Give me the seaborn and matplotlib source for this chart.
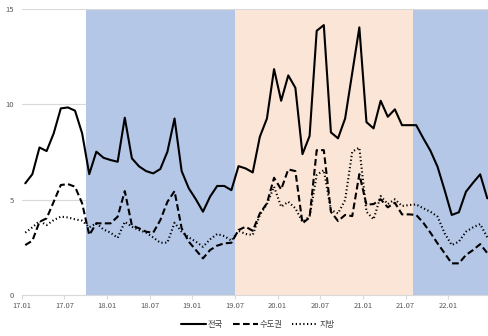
import matplotlib
matplotlib.use("Agg")
import matplotlib.pyplot as plt
import seaborn as sns
import pandas as pd
import numpy as np

# Monthly values, Jan 2017 .. Jun 2022
nationwide = [5.86, 6.34, 7.74, 7.55, 8.48, 9.79, 9.84, 9.67, 8.48, 6.34, 7.52, 7.2,
              7.08, 6.99, 9.3, 7.17, 6.75, 6.5, 6.38, 6.61, 7.52, 9.26, 6.5, 5.6,
              5.02, 4.37, 5.16, 5.72, 5.72, 5.5, 6.76, 6.64, 6.43, 8.3, 9.26, 11.85,
              10.19, 11.52, 10.87, 7.39, 8.34, 13.86, 14.16, 8.53, 8.22, 9.26, 11.65, 14.04,
              9.07, 8.74, 10.19, 9.35, 9.74, 8.91, 8.91, 8.91, 8.22, 7.57, 6.73, 5.5,
              4.2, 4.34, 5.42, 5.89, 6.33, 5.07]
capital = [2.62, 2.85, 3.84, 4.02, 4.89, 5.77, 5.82, 5.68, 4.81, 3.15, 3.76, 3.76,
           3.76, 4.11, 5.45, 3.65, 3.5, 3.32, 3.27, 3.93, 4.89, 5.45, 3.5, 2.8,
           2.36, 1.92, 2.36, 2.59, 2.71, 2.74, 3.41, 3.58, 3.37, 4.28, 4.81, 6.15,
           5.54, 6.59, 6.5, 3.76, 4.07, 7.6, 7.6, 4.37, 3.88, 4.2, 4.14, 6.34,
           4.74, 4.77, 5.02, 4.6, 4.84, 4.23, 4.23, 4.2, 3.79, 3.27, 2.71, 2.19,
           1.66, 1.66, 2.1, 2.36, 2.67, 2.2]
regional = [3.27, 3.55, 3.88, 3.67, 3.93, 4.11, 4.07, 3.97, 3.9, 3.55, 3.76, 3.44,
            3.27, 3.0, 3.84, 3.58, 3.41, 3.27, 3.02, 2.74, 2.75, 3.79, 3.32, 3.02,
            2.8, 2.53, 2.92, 3.2, 3.09, 2.85, 3.37, 3.2, 3.15, 4.2, 4.77, 5.68,
            4.63, 4.89, 4.55, 3.84, 4.11, 6.29, 6.55, 4.46, 4.28, 4.98, 7.52, 7.73,
            4.37, 3.97, 5.19, 4.77, 5.02, 4.67, 4.72, 4.75, 4.55, 4.37, 4.11, 3.24,
            2.62, 2.8, 3.32, 3.55, 3.72, 3.02]
series_names = ["전국", "수도권", "지방"]
tick_labels = ["17.01", "17.07", "18.01", "18.07", "19.01", "19.07",
               "20.01", "20.07", "21.01", "21.07", "22.01"]
# Shaded periods as (start month index, end month index, colour)
periods = [(9, 30, "#B4C7E7"), (30, 55, "#FBE5D6"), (55, 66, "#B4C7E7")]

n = len(nationwide)
month_pos = np.arange(n) + 0.5
df = pd.DataFrame({
    "pos": np.tile(month_pos, 3),
    "value": nationwide + capital + regional,
    "series": np.repeat(series_names, n),
})

sns.set_theme(style="white")
plt.rcParams["font.family"] = ["Noto Sans CJK KR", "DejaVu Sans"]

fig = plt.figure(figsize=(4.88, 3.36), dpi=100)
ax = fig.add_axes([0.0445, 0.122, 0.9555, 0.851])

for y in (5, 10):
    ax.axhline(y, color="#D9D9D9", lw=0.8, zorder=0)
for start, end, color in periods:
    ax.axvspan(start, end, color=color, lw=0, zorder=1)
ax.axhline(15, color="#D9D9D9", lw=0.8, zorder=2)

sns.lineplot(data=df, x="pos", y="value", style="series", style_order=series_names,
             dashes={"전국": "", "수도권": (3.2, 1.6), "지방": (0.6, 1.2)},
             color="black", linewidth=1.5, ax=ax, zorder=3, legend=True)

ax.set_xlim(0, 65.6)
ax.set_ylim(0, 15)
ax.set_xticks(np.arange(0, 61, 6))
ax.set_xticklabels(tick_labels)
ax.set_yticks([0, 5, 10, 15])
ax.set_xlabel("")
ax.set_ylabel("")
for side in ("top", "right", "left"):
    ax.spines[side].set_visible(False)
ax.spines["bottom"].set_color("#D9D9D9")
ax.spines["bottom"].set_linewidth(0.8)
ax.spines["bottom"].set_zorder(2)
ax.tick_params(axis="x", labelsize=5.5, length=3, width=0.8,
               direction="out", pad=2, bottom=True, color="#D9D9D9",
               labelcolor="#595959")
ax.tick_params(axis="y", labelcolor="#595959", labelsize=5.5, length=0, pad=5.5)

handles, labels = ax.get_legend_handles_labels()
ax.legend_.remove()
fig.legend(handles, labels, loc="lower center", bbox_to_anchor=(0.528, -0.002),
           ncol=3, frameon=False, fontsize=6, handlelength=3.0,
           columnspacing=1.2, handletextpad=0.2, labelcolor="#404040")

fig.savefig("out.png", dpi=100)
